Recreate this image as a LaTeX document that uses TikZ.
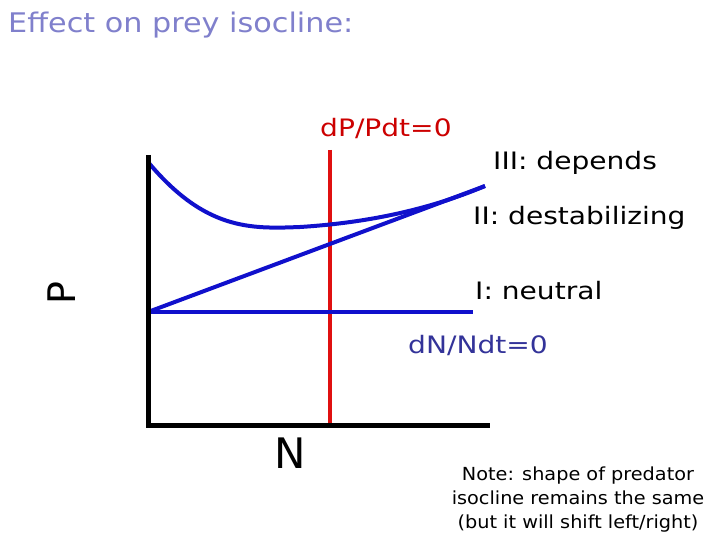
\documentclass[tikz,border=0pt]{standalone}
\usepackage{fontspec}
\setmainfont{DejaVu Sans}
\definecolor{titlec}{HTML}{8080CC}
\definecolor{curveblue}{HTML}{1010CC}
\definecolor{isored}{HTML}{E01010}
\definecolor{nlab}{HTML}{333399}
\definecolor{plab}{HTML}{CC0000}
\begin{document}
\begin{tikzpicture}[x=1pt,y=-1pt,
  axisline/.style={line width=5pt,black},
  isoline/.style={line width=4pt,curveblue},
  predline/.style={line width=4pt,isored},
  lab/.style={inner sep=0pt,xscale=1.17,font=\fontsize{24}{26}\selectfont},
  notetext/.style={inner sep=0pt,align=center,xscale=1.07,font=\fontsize{18}{24}\selectfont}]
\useasboundingbox[fill=white] (0,0) rectangle (720,540);
% title
\node[anchor=west,inner sep=0pt,text=titlec,xscale=1.12,font=\fontsize{27}{30}\selectfont] (title) at (8,25) {Effect on prey isocline:};
% coordinates
\coordinate (origin) at (148,425);
\coordinate (ytop) at (148,155);
\coordinate (xend) at (490,425);
\coordinate (ptop) at (330,150);
\coordinate (pbot) at (330,425);
\coordinate (start) at (148,312);
\coordinate (curvestart) at (148,162);
\coordinate (hend) at (473,312);
\coordinate (tip) at (485,186);
% predator isocline
\draw[predline] (ptop) -- (pbot);
% prey isoclines
\draw[isoline] (start) -- (hend);
\draw[isoline] (start) -- (tip);
\draw[isoline] (curvestart) .. controls (205,230) and (250,229) .. (300,227) .. controls (380,222) and (440,205) .. (tip);
% axes
\draw[axisline] (ytop) -- (origin.center) -- (xend);
% labels
\node[lab,anchor=west,text=plab] (plabel) at (320,128) {dP/Pdt=0};
\node[lab,anchor=west] (lIII) at (493,163) {III: depends};
\node[lab,anchor=west] (lII) at (473,218) {II: destabilizing};
\node[lab,anchor=west] (lI) at (475,291) {I: neutral};
\node[lab,anchor=west,text=nlab] (nlabel) at (408,345) {dN/Ndt=0};
\node[inner sep=0pt,rotate=90,font=\fontsize{38}{40}\selectfont] (pax) at (62,293) {P};
\node[inner sep=0pt,font=\fontsize{42}{44}\selectfont] (nax) at (290,453) {N};
\node[notetext] (note) at (578,500) {Note: shape of predator\\isocline remains the same\\(but it will shift left/right)};
\end{tikzpicture}
\end{document}
